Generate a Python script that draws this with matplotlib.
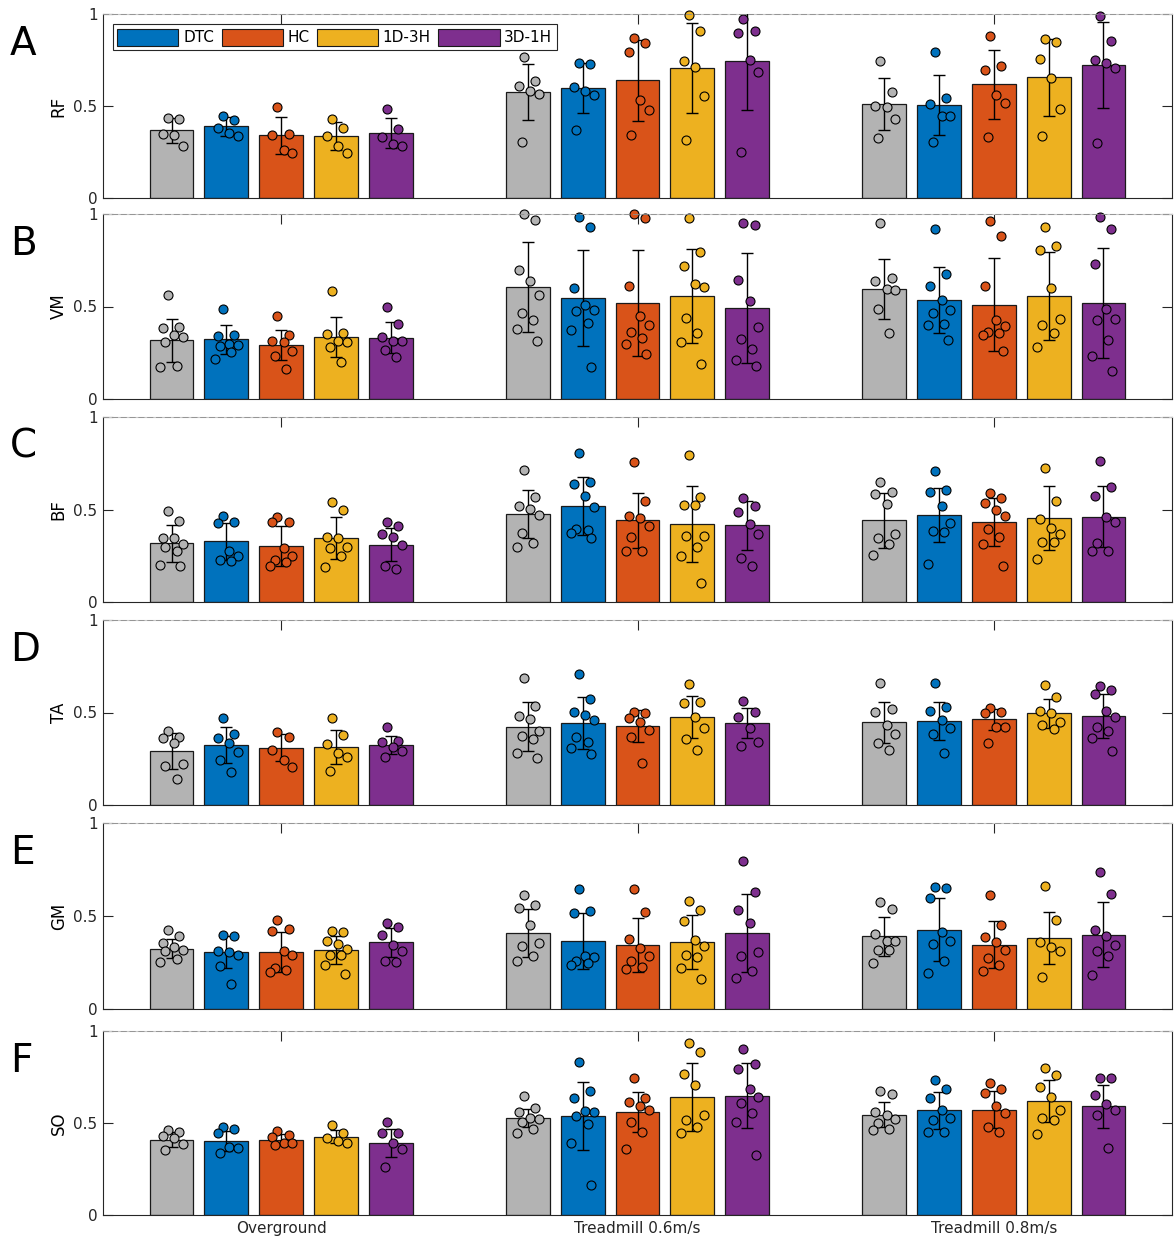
import numpy as np
import matplotlib.pyplot as plt
from matplotlib.patches import Patch

groups = ['DTC', 'HC', '1D-3H', '3D-1H']
conditions = ['Overground', 'Treadmill 0.6m/s', 'Treadmill 0.8m/s']
muscles = ['RF', 'VM', 'BF', 'TA', 'GM', 'SO']
letters = ['A', 'B', 'C', 'D', 'E', 'F']
colors = ['#B3B3B3', '#0072BD', '#D95319', '#EDB120', '#7E2F8E']

# bar means / SD  (rows: condition, cols: gray, DTC, HC, 1D-3H, 3D-1H)
rf_mean = [[0.367, 0.389, 0.34, 0.336, 0.353], [0.575, 0.597, 0.64, 0.705, 0.743], [0.51, 0.506, 0.617, 0.655, 0.722]]
rf_sd = [[0.069, 0.05, 0.1, 0.075, 0.083], [0.151, 0.135, 0.22, 0.245, 0.264], [0.14, 0.165, 0.19, 0.21, 0.233]]
vm_mean = [[0.317, 0.323, 0.292, 0.335, 0.332], [0.605, 0.548, 0.519, 0.557, 0.492], [0.593, 0.535, 0.51, 0.557, 0.519]]
vm_sd = [[0.117, 0.078, 0.083, 0.109, 0.085], [0.245, 0.26, 0.285, 0.255, 0.297], [0.163, 0.179, 0.252, 0.24, 0.295]]
bf_mean = [[0.318, 0.329, 0.303, 0.347, 0.309], [0.476, 0.521, 0.442, 0.42, 0.415], [0.442, 0.469, 0.431, 0.452, 0.461]]
bf_sd = [[0.1, 0.1, 0.107, 0.112, 0.09], [0.13, 0.157, 0.149, 0.205, 0.132], [0.149, 0.145, 0.13, 0.173, 0.165]]
ta_mean = [[0.29, 0.324, 0.31, 0.314, 0.324], [0.423, 0.445, 0.429, 0.476, 0.443], [0.447, 0.454, 0.463, 0.495, 0.481]]
ta_sd = [[0.097, 0.095, 0.072, 0.092, 0.05], [0.133, 0.14, 0.086, 0.113, 0.08], [0.11, 0.105, 0.058, 0.078, 0.12]]
gm_mean = [[0.324, 0.306, 0.308, 0.319, 0.358], [0.409, 0.366, 0.344, 0.362, 0.409], [0.391, 0.427, 0.346, 0.382, 0.4]]
gm_sd = [[0.05, 0.088, 0.107, 0.075, 0.08], [0.13, 0.15, 0.147, 0.145, 0.21], [0.105, 0.17, 0.125, 0.138, 0.174]]
so_mean = [[0.41, 0.403, 0.41, 0.425, 0.392], [0.528, 0.539, 0.561, 0.64, 0.649], [0.546, 0.57, 0.573, 0.618, 0.591]]
so_sd = [[0.04, 0.055, 0.03, 0.035, 0.077], [0.05, 0.186, 0.11, 0.185, 0.178], [0.07, 0.1, 0.1, 0.115, 0.118]]

# individual subjects
rf_pts = [
    [[0.434, 0.43, 0.349, 0.34, 0.28], [0.448, 0.425, 0.38, 0.353, 0.338], [0.497, 0.347, 0.34, 0.262, 0.244],
     [0.43, 0.38, 0.338, 0.284, 0.244], [0.486, 0.374, 0.333, 0.295, 0.284]],
    [[0.765, 0.638, 0.606, 0.58, 0.566, 0.302], [0.736, 0.729, 0.602, 0.584, 0.559, 0.371],
     [0.872, 0.841, 0.792, 0.53, 0.479, 0.342], [0.996, 0.91, 0.747, 0.712, 0.552, 0.316],
     [0.971, 0.908, 0.899, 0.749, 0.684, 0.248]],
    [[0.743, 0.575, 0.501, 0.492, 0.432, 0.324], [0.796, 0.542, 0.51, 0.447, 0.443, 0.307],
     [0.879, 0.72, 0.696, 0.561, 0.519, 0.329], [0.863, 0.846, 0.758, 0.651, 0.483, 0.335],
     [0.991, 0.854, 0.75, 0.731, 0.709, 0.298]],
]
vm_pts = [
    [[0.56, 0.39, 0.385, 0.345, 0.335, 0.31, 0.18, 0.175], [0.486, 0.348, 0.342, 0.297, 0.294, 0.285, 0.252, 0.218],
     [0.447, 0.348, 0.312, 0.308, 0.261, 0.231, 0.164], [0.584, 0.357, 0.351, 0.312, 0.308, 0.281, 0.2],
     [0.497, 0.407, 0.335, 0.315, 0.312, 0.263, 0.227]],
    [[1.0, 0.966, 0.699, 0.64, 0.56, 0.465, 0.425, 0.38, 0.315], [0.982, 0.93, 0.602, 0.51, 0.481, 0.477, 0.41, 0.375, 0.171],
     [1.0, 0.978, 0.611, 0.449, 0.402, 0.36, 0.33, 0.297, 0.245], [0.978, 0.796, 0.719, 0.623, 0.604, 0.438, 0.355, 0.306, 0.189],
     [0.953, 0.942, 0.643, 0.53, 0.387, 0.323, 0.272, 0.209, 0.18]],
    [[0.953, 0.654, 0.636, 0.595, 0.589, 0.486, 0.357], [0.917, 0.677, 0.609, 0.537, 0.481, 0.465, 0.407, 0.4, 0.321],
     [0.962, 0.881, 0.613, 0.427, 0.393, 0.36, 0.357, 0.344, 0.258], [0.93, 0.827, 0.807, 0.598, 0.434, 0.398, 0.357, 0.279],
     [0.984, 0.917, 0.73, 0.485, 0.431, 0.425, 0.321, 0.234, 0.15]],
]
bf_pts = [
    [[0.492, 0.438, 0.348, 0.345, 0.314, 0.296, 0.273, 0.201, 0.192], [0.465, 0.431, 0.429, 0.273, 0.246, 0.228, 0.219],
     [0.458, 0.434, 0.433, 0.294, 0.25, 0.228, 0.214, 0.192], [0.539, 0.497, 0.352, 0.348, 0.296, 0.294, 0.25, 0.19],
     [0.431, 0.411, 0.366, 0.35, 0.309, 0.192, 0.178]],
    [[0.713, 0.569, 0.521, 0.503, 0.469, 0.372, 0.321, 0.3], [0.803, 0.646, 0.637, 0.573, 0.515, 0.395, 0.39, 0.375, 0.348],
     [0.759, 0.548, 0.465, 0.456, 0.413, 0.354, 0.273, 0.273], [0.793, 0.569, 0.524, 0.524, 0.357, 0.355, 0.3, 0.246, 0.102],
     [0.56, 0.521, 0.485, 0.422, 0.368, 0.237, 0.197]],
    [[0.65, 0.596, 0.583, 0.53, 0.368, 0.345, 0.312, 0.255], [0.707, 0.605, 0.592, 0.521, 0.425, 0.386, 0.377, 0.205],
     [0.591, 0.56, 0.537, 0.497, 0.465, 0.395, 0.35, 0.312, 0.196], [0.722, 0.548, 0.447, 0.399, 0.368, 0.327, 0.325, 0.233],
     [0.761, 0.619, 0.573, 0.461, 0.434, 0.321, 0.278, 0.275]],
]
ta_pts = [
    [[0.4, 0.369, 0.36, 0.337, 0.222, 0.213, 0.141], [0.47, 0.382, 0.36, 0.333, 0.288, 0.243, 0.18],
     [0.396, 0.369, 0.297, 0.243, 0.204], [0.472, 0.378, 0.328, 0.279, 0.258, 0.184],
     [0.423, 0.346, 0.339, 0.315, 0.292, 0.258]],
    [[0.685, 0.535, 0.481, 0.465, 0.4, 0.375, 0.355, 0.279, 0.252], [0.708, 0.571, 0.505, 0.486, 0.459, 0.369, 0.339, 0.306, 0.274],
     [0.505, 0.495, 0.472, 0.45, 0.405, 0.369, 0.229], [0.654, 0.555, 0.55, 0.477, 0.418, 0.355, 0.297],
     [0.562, 0.505, 0.477, 0.418, 0.342, 0.319]],
    [[0.661, 0.517, 0.505, 0.432, 0.384, 0.333, 0.297], [0.661, 0.532, 0.508, 0.459, 0.418, 0.382, 0.283],
     [0.523, 0.505, 0.495, 0.423, 0.42, 0.333], [0.649, 0.582, 0.508, 0.495, 0.45, 0.432, 0.411],
     [0.641, 0.62, 0.6, 0.508, 0.477, 0.423, 0.4, 0.36, 0.294]],
]
gm_pts = [
    [[0.423, 0.391, 0.355, 0.332, 0.319, 0.31, 0.271, 0.251], [0.396, 0.394, 0.314, 0.306, 0.292, 0.233, 0.136],
     [0.48, 0.432, 0.421, 0.31, 0.289, 0.22, 0.211, 0.199], [0.418, 0.414, 0.364, 0.351, 0.324, 0.292, 0.288, 0.238, 0.19],
     [0.462, 0.439, 0.4, 0.346, 0.314, 0.256, 0.254]],
    [[0.615, 0.561, 0.543, 0.453, 0.355, 0.341, 0.283, 0.26], [0.643, 0.529, 0.516, 0.283, 0.278, 0.256, 0.247, 0.238],
     [0.645, 0.522, 0.376, 0.328, 0.287, 0.256, 0.224, 0.217], [0.579, 0.534, 0.471, 0.373, 0.337, 0.289, 0.28, 0.22, 0.161],
     [0.794, 0.629, 0.534, 0.462, 0.305, 0.287, 0.203, 0.167]],
    [[0.575, 0.539, 0.403, 0.367, 0.364, 0.319, 0.315, 0.247], [0.654, 0.651, 0.597, 0.414, 0.367, 0.349, 0.26, 0.194],
     [0.615, 0.453, 0.385, 0.358, 0.319, 0.274, 0.238, 0.203], [0.659, 0.48, 0.36, 0.332, 0.31, 0.17],
     [0.735, 0.618, 0.427, 0.391, 0.346, 0.314, 0.283, 0.181]],
]
so_pts = [
    [[0.461, 0.452, 0.429, 0.416, 0.385, 0.353], [0.476, 0.465, 0.443, 0.371, 0.365, 0.335],
     [0.456, 0.434, 0.425, 0.392, 0.389, 0.383], [0.488, 0.443, 0.416, 0.401, 0.392],
     [0.503, 0.448, 0.443, 0.389, 0.356, 0.262]],
    [[0.646, 0.584, 0.561, 0.528, 0.521, 0.506, 0.47, 0.447], [0.832, 0.673, 0.638, 0.566, 0.561, 0.539, 0.494, 0.392, 0.163],
     [0.745, 0.637, 0.615, 0.591, 0.573, 0.506, 0.452, 0.356], [0.935, 0.886, 0.769, 0.709, 0.542, 0.515, 0.476, 0.443],
     [0.904, 0.819, 0.792, 0.684, 0.642, 0.606, 0.552, 0.506, 0.326]],
    [[0.675, 0.66, 0.561, 0.542, 0.524, 0.501, 0.47, 0.461], [0.736, 0.687, 0.638, 0.573, 0.528, 0.515, 0.452, 0.45],
     [0.72, 0.687, 0.665, 0.591, 0.552, 0.479, 0.452], [0.799, 0.763, 0.696, 0.642, 0.573, 0.528, 0.515, 0.439],
     [0.745, 0.742, 0.651, 0.602, 0.57, 0.546, 0.362]],
]

means = [rf_mean, vm_mean, bf_mean, ta_mean, gm_mean, so_mean]
sds = [rf_sd, vm_sd, bf_sd, ta_sd, gm_sd, so_sd]
pts = [rf_pts, vm_pts, bf_pts, ta_pts, gm_pts, so_pts]

W, H = 1174, 1243
fig = plt.figure(figsize=(W / 100, H / 100), dpi=100)

# panel top / bottom in pixels
tops = [14, 214, 417, 620, 823, 1031]
bots = [198, 399, 602, 805, 1009, 1215]
x_left, x_right = 103, 1172

step = 0.8 / 5.2  # matlab grouped bar spacing
bw = 0.8 * step
jit = np.array([-0.3, 0.6, -0.7, 0.2, 0.9, -0.5, 0.4, -0.9, 0.7, -0.1]) * 0.035

for k in range(6):
    ax = fig.add_axes([x_left / W, 1 - bots[k] / H, (x_right - x_left) / W, (bots[k] - tops[k]) / H])
    for c in range(3):
        for j in range(5):
            x = c + 1 + (j - 2) * step
            m = means[k][c][j]
            s = sds[k][c][j]
            ax.bar(x, m, width=bw, color=colors[j], edgecolor='#1a1a1a', linewidth=0.9, zorder=2)
            ax.errorbar(x, m, yerr=s, color='black', lw=1, capsize=4.5, capthick=1, zorder=3)
            p = np.array(pts[k][c][j])
            ax.scatter(x + jit[:len(p)], p, s=42, color=colors[j], edgecolors='black',
                       linewidths=0.8, zorder=4, clip_on=False)
    ax.axhline(1, color='#8c8c8c', ls='--', lw=1.2, zorder=5)
    ax.set_xlim(0.5, 3.5)
    ax.set_ylim(0, 1)
    ax.set_yticks([0, 0.5, 1])
    ax.set_yticklabels(['0', '0.5', '1'])
    ax.set_xticks([1, 2, 3])
    if k == 5:
        ax.set_xticklabels(conditions)
    else:
        ax.set_xticklabels([])
    ax.tick_params(direction='in', top=True, right=True, length=7, width=0.8,
                   labelsize=11, colors='#262626', pad=4)
    for sp in ax.spines.values():
        sp.set_color('#262626')
        sp.set_linewidth(0.8)
    ax.spines['top'].set_color('#c8c8c8')
    ax.set_ylabel(muscles[k], fontsize=12, labelpad=4)
    fig.text(10 / W, 1 - (tops[k] + 30) / H, letters[k], fontsize=28, va='center', ha='left')

    if k == 0:
        handles = [Patch(facecolor=colors[i + 1], edgecolor='#1a1a1a', lw=0.8) for i in range(4)]
        leg = ax.legend(handles, groups, loc='upper left', bbox_to_anchor=(0.002, 0.985), ncol=4,
                        fontsize=11, handlelength=4.0, handleheight=1.3, handletextpad=0.3,
                        columnspacing=0.5, borderpad=0.3, fancybox=False, framealpha=1,
                        edgecolor='#262626')
        leg.get_frame().set_linewidth(0.8)

plt.savefig('out.png', dpi=100)
